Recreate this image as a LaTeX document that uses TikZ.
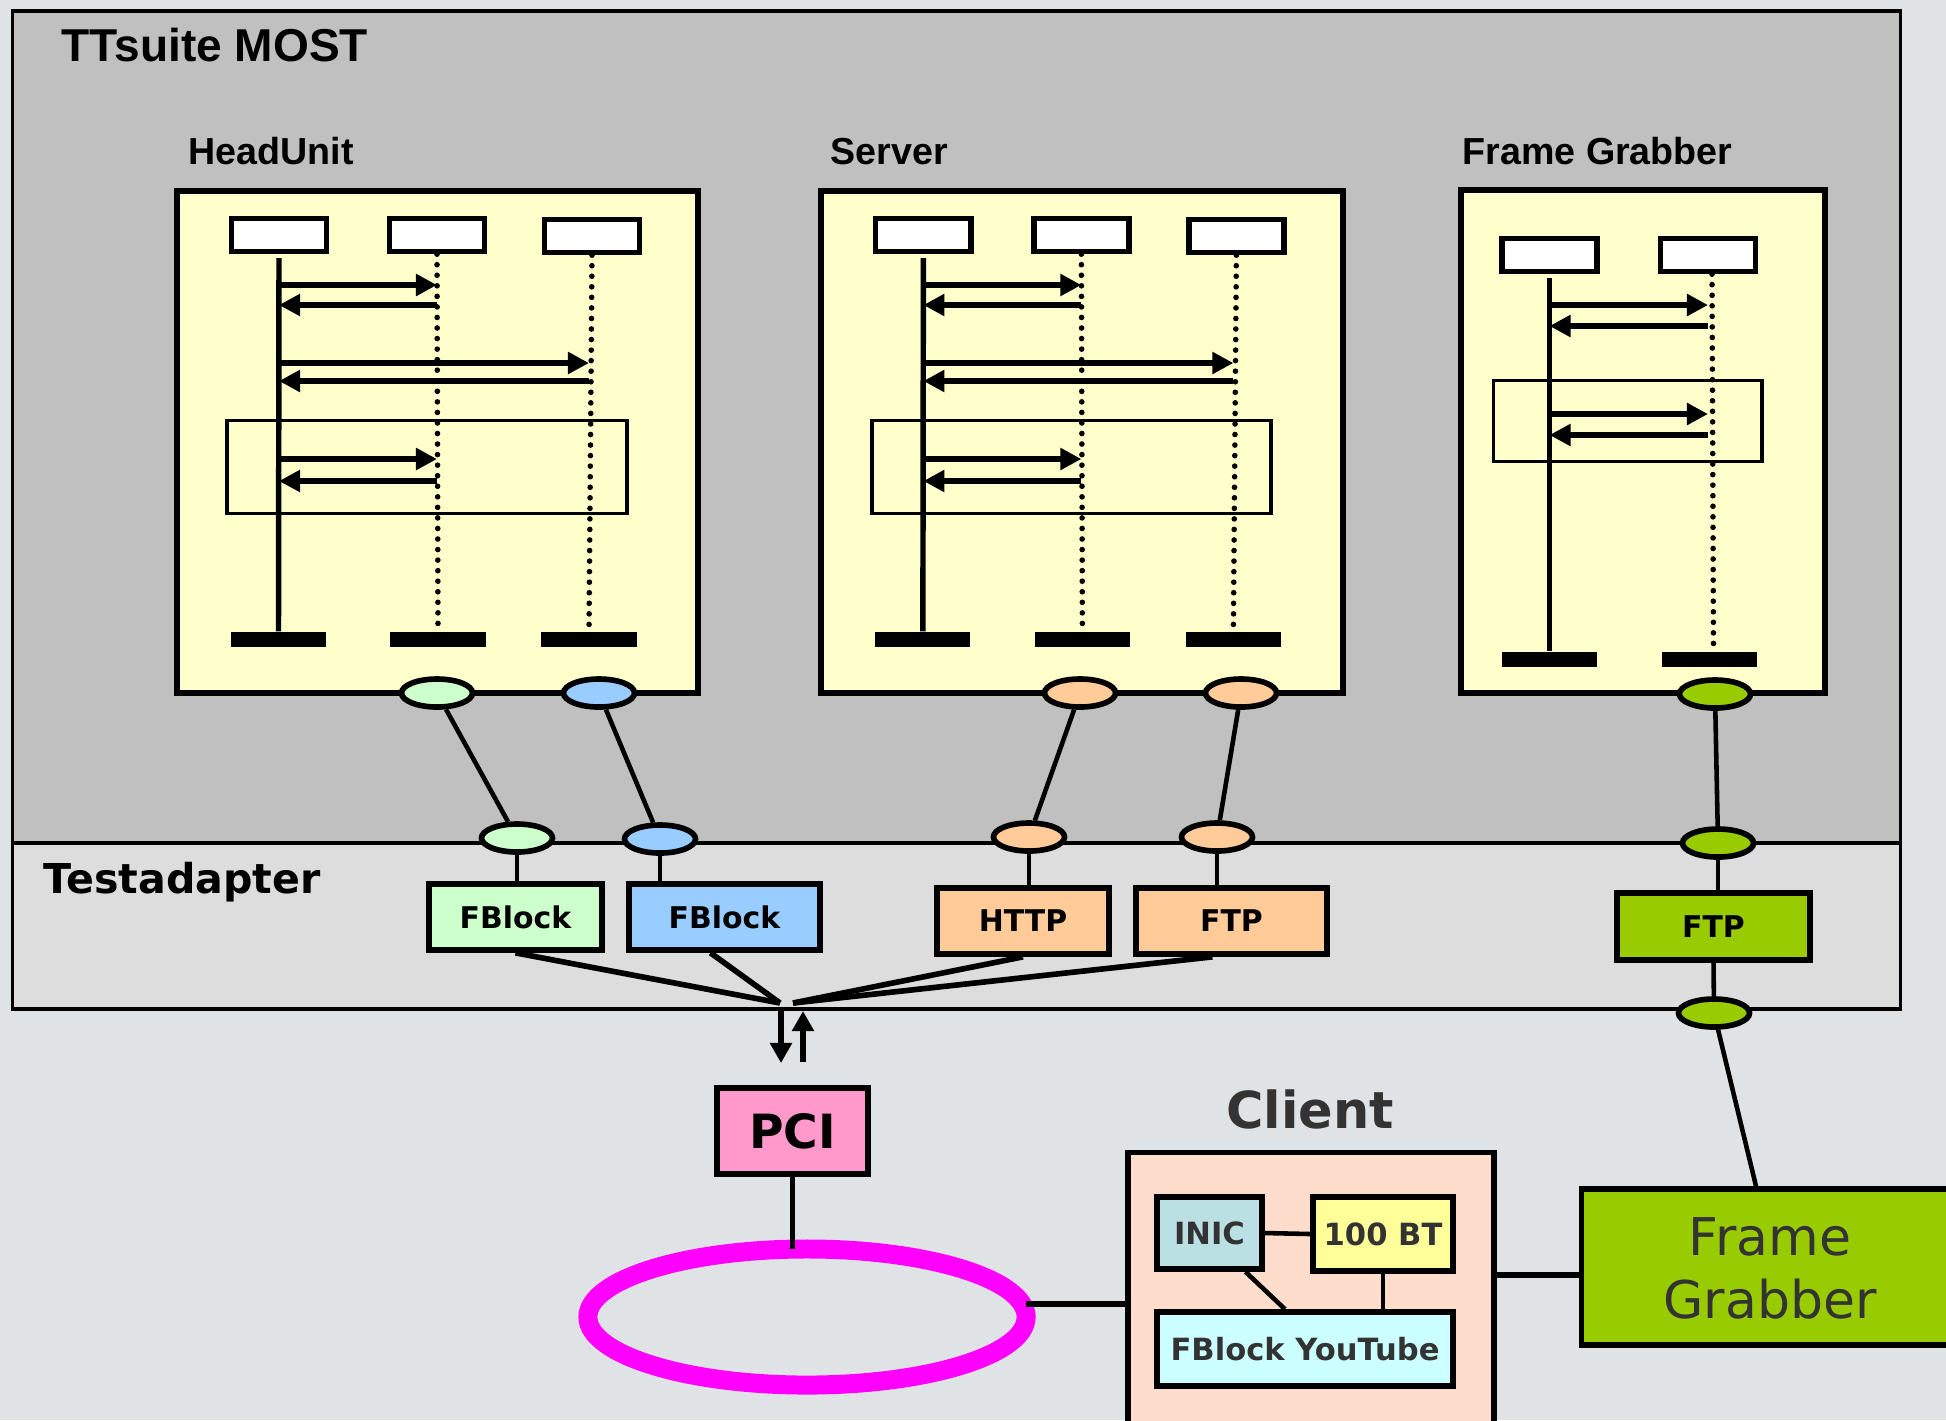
\documentclass[tikz,border=0pt]{standalone}
\usepackage{fontspec}
\setmainfont{DejaVu Sans}
\newfontfamily\arialfont{Liberation Sans}
\usepackage{tikz}
\usetikzlibrary{positioning}
\usetikzlibrary{shapes.geometric,arrows.meta}
\definecolor{bgc}{HTML}{DFE3E6}
\definecolor{suitegray}{HTML}{C0C0C0}
\definecolor{adaptgray}{HTML}{DDDDDD}
\definecolor{seqyellow}{HTML}{FFFFCC}
\definecolor{fbgreen}{HTML}{CCFFCC}
\definecolor{fbblue}{HTML}{99CCFF}
\definecolor{netorange}{HTML}{FFCC99}
\definecolor{fglime}{HTML}{99CC00}
\definecolor{pcipink}{HTML}{FF99CC}
\definecolor{ringmag}{HTML}{FF00FF}
\definecolor{clientpeach}{HTML}{FFDDCC}
\definecolor{inicteal}{HTML}{BBE0E3}
\definecolor{btyellow}{HTML}{FFFF99}
\definecolor{ytcyan}{HTML}{CCFFFF}
\definecolor{darktext}{HTML}{333333}
\tikzset{
area/.style = {draw, line width=1pt, rectangle, inner sep=0pt},
seqbox/.style = {draw, line width=1.7pt, fill=seqyellow, rectangle, inner sep=0pt},
head/.style = {draw, line width=1.5pt, fill=white, rectangle, inner sep=0pt, minimum width=0.95cm, minimum height=0.33cm},
bar/.style = {fill=black, rectangle, inner sep=0pt, minimum width=0.95cm, minimum height=0.15cm},
frame/.style = {draw, line width=1.1pt, rectangle, inner sep=0pt},
life/.style = {line width=1.55pt},
dots/.style = {line width=1.6pt, line cap=round, dash pattern=on 0pt off 3pt},
msg/.style = {line width=1.55pt, ->},
port/.style = {draw, ellipse, line width=1.6pt, inner sep=0pt, minimum width=0.71cm, minimum height=0.28cm},
link/.style = {line width=1.3pt},
fan/.style = {line width=1.6pt},
block/.style = {draw, line width=1.6pt, rectangle, inner sep=0pt, font=\bfseries\fontsize{8.5}{10}\selectfont},
cblock/.style = {block, text=darktext, font=\bfseries\fontsize{8.7}{10}\selectfont},
lbl/.style = {font=\arialfont\bfseries\fontsize{10.7}{12}\selectfont, inner sep=0pt, anchor=base west},
suitelbl/.style = {font=\arialfont\bfseries\fontsize{13.1}{15}\selectfont, inner sep=0pt, anchor=base west},
adaptlbl/.style = {font=\bfseries\fontsize{11.7}{14}\selectfont, inner sep=0pt, anchor=base west}
}

\begin{document}
\begin{tikzpicture}[x=0.01cm, y=-0.01cm, >={Triangle[length=6pt,width=6pt]}]
    \useasboundingbox (0,0) rectangle (1946,1420);
    \fill[bgc] (0,0) rectangle (1946,1420);
    \clip (0,0) rectangle (1946,1420);

    % the two areas
    \node[area, fill=suitegray, minimum width=18.87cm, minimum height=8.32cm] (suite) at (956.5,427) {};
    \node[area, fill=adaptgray, minimum width=18.87cm, minimum height=1.66cm] (adapter) at (956.5,926) {};
    \node[suitelbl] (suiteT) at (61,61) {TTsuite MOST};
    \node[adaptlbl] (adapterT) at (43,893) {Testadapter};

    % HeadUnit sequence
    \node[lbl] (huT) at (188,164) {HeadUnit};
    \node[seqbox, minimum width=5.21cm, minimum height=5.02cm] (hu) at (437.5,442) {};
    \node[frame, minimum width=3.99cm, minimum height=0.93cm] (huF) at (427,467) {};
    \node[head] (huA) at (279,235) {};
    \node[head] (huB) at (437,235) {};
    \node[head] (huC) at (592,236) {};
    \node[bar] (huAe) at (278.5,639.5) {};
    \node[bar] (huBe) at (438,639.5) {};
    \node[bar] (huCe) at (589,639.5) {};
    \draw[life] ([yshift=-0.04cm]huA.south) -- (huAe.north);
    \draw[dots] (huB.south) -- (huBe.north);
    \draw[dots] (huC.south) -- (huCe.north);
    \draw[msg] (huA |- 0,285) -- (huB |- 0,285);
    \draw[msg] (huB |- 0,305) -- (huA |- 0,305);
    \draw[msg] (huA |- 0,363) -- (huCe |- 0,363);
    \draw[msg] (huCe |- 0,381) -- (huA |- 0,381);
    \draw[msg] (huA |- 0,459) -- (huB |- 0,459);
    \draw[msg] (huB |- 0,481) -- (huA |- 0,481);

    % Server sequence, same layout
    \node[lbl] (svT) at (830,164) {Server};
    \begin{scope}[xshift=6.44cm]
    \node[seqbox, minimum width=5.21cm, minimum height=5.02cm] (sv) at (437.5,442) {};
    \node[frame, minimum width=3.99cm, minimum height=0.93cm] (svF) at (427,467) {};
    \node[head] (svA) at (279,235) {};
    \node[head] (svB) at (437,235) {};
    \node[head] (svC) at (592,236) {};
    \node[bar] (svAe) at (278.5,639.5) {};
    \node[bar] (svBe) at (438,639.5) {};
    \node[bar] (svCe) at (589,639.5) {};
    \draw[life] ([yshift=-0.04cm]svA.south) -- (svAe.north);
    \draw[dots] (svB.south) -- (svBe.north);
    \draw[dots] (svC.south) -- (svCe.north);
    \draw[msg] (svA |- 0,285) -- (svB |- 0,285);
    \draw[msg] (svB |- 0,305) -- (svA |- 0,305);
    \draw[msg] (svA |- 0,363) -- (svCe |- 0,363);
    \draw[msg] (svCe |- 0,381) -- (svA |- 0,381);
    \draw[msg] (svA |- 0,459) -- (svB |- 0,459);
    \draw[msg] (svB |- 0,481) -- (svA |- 0,481);
    \end{scope}

    % Frame Grabber sequence
    \node[lbl] (fgT) at (1462,164) {Frame Grabber};
    \node[seqbox, minimum width=3.64cm, minimum height=5.03cm] (fg) at (1643,441.5) {};
    \node[frame, minimum width=2.68cm, minimum height=0.81cm] (fgF) at (1627.5,421) {};
    \node[head] (fgA) at (1549.5,255) {};
    \node[head] (fgB) at (1708,255) {};
    \node[bar] (fgAe) at (1549.5,659.5) {};
    \node[bar] (fgBe) at (1709.5,659.5) {};
    \draw[life] ([yshift=-0.04cm]fgA.south) -- (fgAe.north);
    \draw[dots] ([xshift=0.04cm]fgB.south) -- ([xshift=0.04cm]fgBe.north);
    \draw[msg] (fgA |- 0,305) -- (fgB |- 0,305);
    \draw[msg] (fgB |- 0,326) -- (fgA |- 0,326);
    \draw[msg] (fgA |- 0,414) -- (fgB |- 0,414);
    \draw[msg] (fgB |- 0,435) -- (fgA |- 0,435);

    % ports
    \node[port, fill=fbgreen] (hpA) at (437,693) {};
    \node[port, fill=fbblue] (hpB) at (599,693) {};
    \node[port, fill=netorange] (spA) at (1080,693) {};
    \node[port, fill=netorange] (spB) at (1241,693) {};
    \node[port, fill=fglime] (fpA) at (1715,694) {};
    \node[port, fill=fbgreen] (tpA) at (517,838) {};
    \node[port, fill=fbblue] (tpB) at (660,839) {};
    \node[port, fill=netorange] (tpC) at (1029,837) {};
    \node[port, fill=netorange] (tpD) at (1217,837) {};
    \node[port, fill=fglime] (tpE) at (1718,843) {};
    \node[port, fill=fglime] (bpE) at (1714,1013) {};

    % adapter blocks
    \node[block, fill=fbgreen, minimum width=1.73cm, minimum height=0.66cm] (fbA) at (515.5,917) {FBlock};
    \node[block, fill=fbblue, minimum width=1.91cm, minimum height=0.66cm] (fbB) at (724.5,917) {FBlock};
    \node[block, fill=netorange, minimum width=1.72cm, minimum height=0.66cm] (http) at (1023,921) {HTTP};
    \node[block, fill=netorange, minimum width=1.91cm, minimum height=0.66cm] (ftpA) at (1231.5,921) {FTP};
    \node[block, fill=fglime, minimum width=1.93cm, minimum height=0.67cm] (ftpB) at (1713.5,926.5) {FTP};

    % PCI, ring, client and frame grabber
    \node[block, fill=pcipink, minimum width=1.51cm, minimum height=0.86cm, font=\bfseries\fontsize{13.4}{16}\selectfont] (pci) at (792.5,1131) {PCI};
    \node[ellipse, draw=ringmag, line width=5.4pt, outer sep=0pt, minimum width=4.38cm, minimum height=1.36cm] (ring) at (807,1317) {};
    \node[font=\bfseries\fontsize{14.5}{17}\selectfont, text=darktext, inner sep=0pt, anchor=base] (clientT) at (1310,1128) {Client};
    \node[block, fill=clientpeach, minimum width=3.66cm, minimum height=3.2cm] (client) at (1311,1312.5) {};
    \node[cblock, fill=inicteal, minimum width=1.05cm, minimum height=0.72cm] (inic) at (1209.5,1233) {INIC};
    \node[cblock, fill=btyellow, minimum width=1.4cm, minimum height=0.74cm] (bt) at (1383,1234) {100 BT};
    \node[cblock, fill=ytcyan, minimum width=2.96cm, minimum height=0.74cm] (fbyt) at (1305,1349) {FBlock YouTube};
    \node[block, fill=fglime, minimum width=4.68cm, minimum height=1.56cm] (fgbox) at (1815.5,1267) {};
    \node[align=center, text=darktext, font=\fontsize{14.8}{17.9}\selectfont, inner sep=0pt] (fgboxT) at (1770,1268) {Frame\\Grabber};

    % connections
    \draw[link] (hpA) -- (tpA);
    \draw[link] (hpB) -- (tpB);
    \draw[link] (spA) -- (tpC);
    \draw[link] (spB) -- (tpD);
    \draw[link] (fpA) -- (tpE);
    \draw[link] (tpA) -- (tpA |- fbA.north);
    \draw[link] (tpB) -- (tpB |- fbB.north);
    \draw[link] (tpC) -- (tpC |- http.north);
    \draw[link] (tpD) -- (tpD |- ftpA.north);
    \draw[link] (tpE) -- (tpE |- ftpB.north);
    \draw[link] (ftpB.south) -- (bpE);
    \draw[link] (bpE) -- (1756,0 |- fgbox.north);

    \coordinate (hubL) at (780,1003);
    \coordinate (hubR) at (793,1003);
    \draw[fan] (fbA.south) -- (hubL);
    \draw[fan] ([xshift=-0.14cm]fbB.south) -- (hubL);
    \draw[fan] (http.south) -- (hubR);
    \draw[fan] ([xshift=-0.19cm]ftpA.south) -- (hubR);

    \coordinate (dnS) at (781,1009);
    \coordinate (dnE) at (781,1063);
    \coordinate (upS) at (803,1062);
    \coordinate (upE) at (803,1011);
    \draw[life, -{Triangle[length=5.7pt,width=6pt]}] (dnS) -- (dnE);
    \draw[life, -{Triangle[length=5.7pt,width=6pt]}] (upS) -- (upE);

    \draw[life] (pci.south) -- (pci.south |- ring.north);
    \coordinate (ringout) at ([yshift=0.13cm]ring.east);
    \draw[fan] (ringout) -- (ringout -| client.west);
    \draw[link] (inic.east) -- (bt.west);
    \draw[link] ([xshift=0.36cm]inic.south) -- ([xshift=-0.2cm]fbyt.north);
    \draw[link] (bt.south) -- (bt.south |- fbyt.north);
    \draw[fan] (client.east |- 0,1275) -- (fgbox.west |- 0,1275);
\end{tikzpicture}
\end{document}
